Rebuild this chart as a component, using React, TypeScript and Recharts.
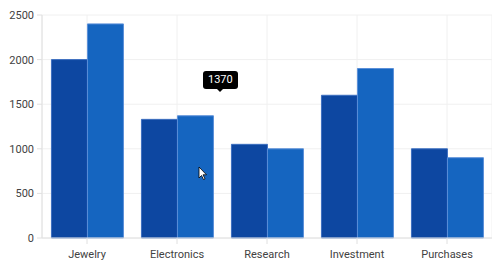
import { BarChart, Bar, XAxis, YAxis, CartesianGrid, Tooltip } from 'recharts';

const categories = ['Jewelry', 'Electronics', 'Research', 'Investment', 'Purchases'];
const seriesA = [2000, 1330, 1050, 1600, 1000];
const seriesB = [2400, 1370, 1000, 1900, 900];
const yTicks = [0, 500, 1000, 1500, 2000, 2500];

const data = categories.map((name, i) => ({ name, a: seriesA[i], b: seriesB[i] }));

const axisTick = { fill: '#424242', fontSize: 11, fontFamily: 'Roboto' };

// small black callout showing the second series value
const ValueTip = ({ active, payload }: any) => {
    if (!active || !payload || payload.length < 2) return null;
    return (
        <div style={{ position: 'relative', fontFamily: 'Roboto' }}>
            <div style={{ background: '#000', color: '#fff', fontSize: 11, lineHeight: '18px', padding: '0 5px', borderRadius: 3 }}>
                {payload[1].value}
            </div>
            <div style={{ position: 'absolute', left: '50%', marginLeft: -3, top: 18, width: 0, height: 0, borderLeft: '3px solid transparent', borderRight: '3px solid transparent', borderTop: '3px solid #000' }} />
        </div>
    );
};

export default function App() {
    return (
        <div style={{ position: 'relative', width: 492, height: 262 }}>
            <BarChart
                width={492}
                height={262}
                data={data}
                margin={{ top: 7, right: 8, left: 0, bottom: 2 }}
                barCategoryGap="10.5%"
                barGap={0}
            >
                <CartesianGrid stroke="#f0f0f0" />
                <XAxis
                    dataKey="name"
                    stroke="#e0e0e0"
                    tick={axisTick}
                    tickSize={6}
                    tickMargin={6}
                />
                <YAxis
                    width={34}
                    ticks={yTicks}
                    domain={[0, 2500]}
                    stroke="#e0e0e0"
                    tick={axisTick}
                    tickSize={5}
                    tickMargin={3}
                />
                <Tooltip
                    defaultIndex={1}
                    active={true}
                    cursor={false}
                    position={{ x: 195, y: 63 }}
                    content={<ValueTip />}
                    isAnimationActive={false}
                    wrapperStyle={{ outline: 'none' }}
                />
                <Bar dataKey="a" fill="#0d47a1" stroke="#3d6fc0" strokeWidth={1} isAnimationActive={false} />
                <Bar dataKey="b" fill="#1565c0" stroke="#5a8fd8" strokeWidth={1} isAnimationActive={false} />
            </BarChart>
            <svg width={12} height={16} style={{ position: 'absolute', left: 190, top: 158, pointerEvents: 'none' }}>
                <path d="M1,1 L1,12 L3.5,9.5 L5.5,13.5 L7,12.8 L5,8.8 L8.5,8.8 Z" fill="#fff" stroke="#000" strokeWidth={0.8} />
            </svg>
        </div>
    );
}
